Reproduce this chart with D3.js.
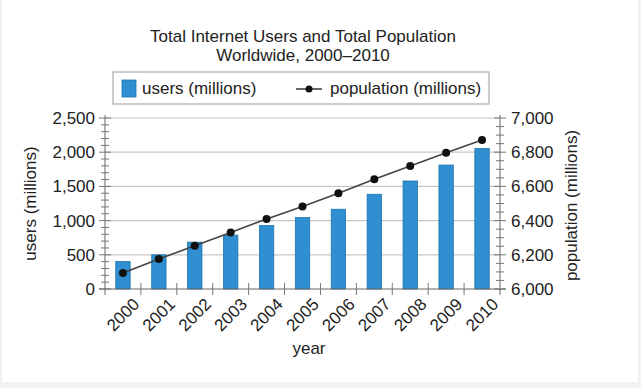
<!DOCTYPE html>
<html>
<head>
<meta charset="utf-8">
<script src="https://cdn.jsdelivr.net/npm/d3@7"></script>
<style>
  body { margin: 0; background: #f2f2f2; }
  svg text { font-family: "Liberation Sans", Arial, sans-serif; fill: #222; }
</style>
</head>
<body>
<div id="chart"></div>
<script>
// data
var years = ["2000","2001","2002","2003","2004","2005","2006","2007","2008","2009","2010"];
var users = [402, 500, 685, 787, 927, 1044, 1166, 1385, 1579, 1812, 2055];
var population = [6093, 6175, 6253, 6330, 6410, 6482, 6560, 6642, 6720, 6797, 6872];
var usersTicks = [0, 500, 1000, 1500, 2000, 2500];
var popTicks = [6000, 6200, 6400, 6600, 6800, 7000];

var W = 641, H = 388;
var pLeft = 105, pRight = 500, pTop = 118, pBottom = 289;

var svg = d3.select("#chart").append("svg")
  .attr("width", W).attr("height", H);

// white panel with grey edge
svg.append("rect").attr("x", 2).attr("y", 0)
  .attr("width", 636).attr("height", 382).attr("fill", "#fff");

var x = d3.scaleBand().domain(years).range([pLeft, pRight]);
var xEdge = d3.scaleLinear().domain([0, years.length]).range([pLeft, pRight]);
var y = d3.scaleLinear().domain([0, 2500]).range([pBottom, pTop]);
var y2 = d3.scaleLinear().domain([6000, 7000]).range([pBottom, pTop]);

// gridlines
svg.append("g").selectAll("line").data(usersTicks.slice(1)).enter()
  .append("line")
    .attr("x1", pLeft).attr("x2", pRight)
    .attr("y1", d => y(d)).attr("y2", d => y(d))
    .attr("stroke", "#c8c8c8").attr("stroke-width", 1.2);

// bars
var bw = x.step() * 0.4;
svg.append("g").selectAll("rect").data(users).enter()
  .append("rect")
    .attr("x", (d, i) => x(years[i]) + x.step() / 2 - bw / 2)
    .attr("y", d => y(d))
    .attr("width", bw)
    .attr("height", d => pBottom - y(d))
    .attr("fill", "#2f8fd0")
    .attr("stroke", "#1f73ad").attr("stroke-width", 0.8);

// population line + dots
var cx = (d, i) => x(years[i]) + x.step() / 2;
svg.append("path").datum(population)
  .attr("d", d3.line().x(cx).y(d => y2(d)))
  .attr("fill", "none").attr("stroke", "#444").attr("stroke-width", 1.6);
svg.append("g").selectAll("circle").data(population).enter()
  .append("circle")
    .attr("cx", cx).attr("cy", d => y2(d)).attr("r", 4)
    .attr("fill", "#111");

// left axis
var gl = svg.append("g").attr("transform", "translate(" + pLeft + ",0)");
gl.append("line").attr("y1", pTop - 3).attr("y2", pBottom + 6).attr("stroke", "#666");
gl.selectAll(".minor").data(y.ticks(25)).enter().append("line")
  .attr("x1", d => usersTicks.includes(d) ? -6 : -4)
  .attr("x2", d => usersTicks.includes(d) ? 6 : 4)
  .attr("y1", d => y(d)).attr("y2", d => y(d))
  .attr("stroke", "#777");
gl.selectAll(".lab").data(usersTicks).enter().append("text")
  .attr("x", -10).attr("y", d => y(d)).attr("dy", "0.35em")
  .attr("text-anchor", "end").style("font-size", "17px")
  .text(d3.format(","));

// right axis
var gr = svg.append("g").attr("transform", "translate(" + pRight + ",0)");
gr.append("line").attr("y1", pTop - 3).attr("y2", pBottom + 6).attr("stroke", "#666");
gr.selectAll(".minor").data(y2.ticks(25)).enter().append("line")
  .attr("x1", d => popTicks.includes(d) ? -6 : -4)
  .attr("x2", d => popTicks.includes(d) ? 6 : 4)
  .attr("y1", d => y2(d)).attr("y2", d => y2(d))
  .attr("stroke", "#777");
gr.selectAll(".lab").data(popTicks).enter().append("text")
  .attr("x", 11).attr("y", d => y2(d)).attr("dy", "0.35em")
  .attr("text-anchor", "start").style("font-size", "17px")
  .text(d3.format(","));

// bottom axis
var gb = svg.append("g").attr("transform", "translate(0," + pBottom + ")");
gb.append("line").attr("x1", pLeft - 6).attr("x2", pRight + 6).attr("stroke", "#666");
gb.selectAll(".edge").data(d3.range(1, years.length)).enter().append("line")
  .attr("x1", d => xEdge(d)).attr("x2", d => xEdge(d))
  .attr("y1", -6).attr("y2", 6).attr("stroke", "#777");
gb.selectAll(".lab").data(years).enter().append("text")
  .attr("transform", d => "translate(" + (x(d) + x.step() / 2 + 9) + ",8) rotate(-45)")
  .attr("text-anchor", "end").attr("dy", "0.7em")
  .style("font-size", "17px")
  .text(d => d);

// axis titles
svg.append("text")
  .attr("transform", "translate(36," + ((pTop + pBottom) / 2) + ") rotate(-90)")
  .attr("text-anchor", "middle").style("font-size", "17px")
  .text("users (millions)");
svg.append("text")
  .attr("transform", "translate(577," + ((pTop + pBottom) / 2 + 2) + ") rotate(-90)")
  .attr("text-anchor", "middle").style("font-size", "17px")
  .text("population (millions)");
svg.append("text")
  .attr("x", 309).attr("y", 354).attr("text-anchor", "middle")
  .style("font-size", "17px").text("year");

// title
svg.append("text").attr("x", 303).attr("y", 42).attr("text-anchor", "middle")
  .style("font-size", "17px").text("Total Internet Users and Total Population");
svg.append("text").attr("x", 303).attr("y", 61).attr("text-anchor", "middle")
  .style("font-size", "17px").text("Worldwide, 2000\u20132010");

// legend
var lg = svg.append("g");
lg.append("rect").attr("x", 113).attr("y", 72).attr("width", 376).attr("height", 32)
  .attr("fill", "#fff").attr("stroke", "#aaa").attr("stroke-width", 1.2);
lg.append("rect").attr("x", 122).attr("y", 80).attr("width", 14).attr("height", 17)
  .attr("fill", "#2f8fd0").attr("stroke", "#1f73ad").attr("stroke-width", 0.8);
lg.append("text").attr("x", 142).attr("y", 94).style("font-size", "17px").text("users (millions)");
lg.append("line").attr("x1", 296).attr("x2", 322).attr("y1", 89).attr("y2", 89)
  .attr("stroke", "#444").attr("stroke-width", 1.6);
lg.append("circle").attr("cx", 309).attr("cy", 89).attr("r", 3.5).attr("fill", "#111");
lg.append("text").attr("x", 330).attr("y", 94).style("font-size", "17px").text("population (millions)");
</script>
</body>
</html>
